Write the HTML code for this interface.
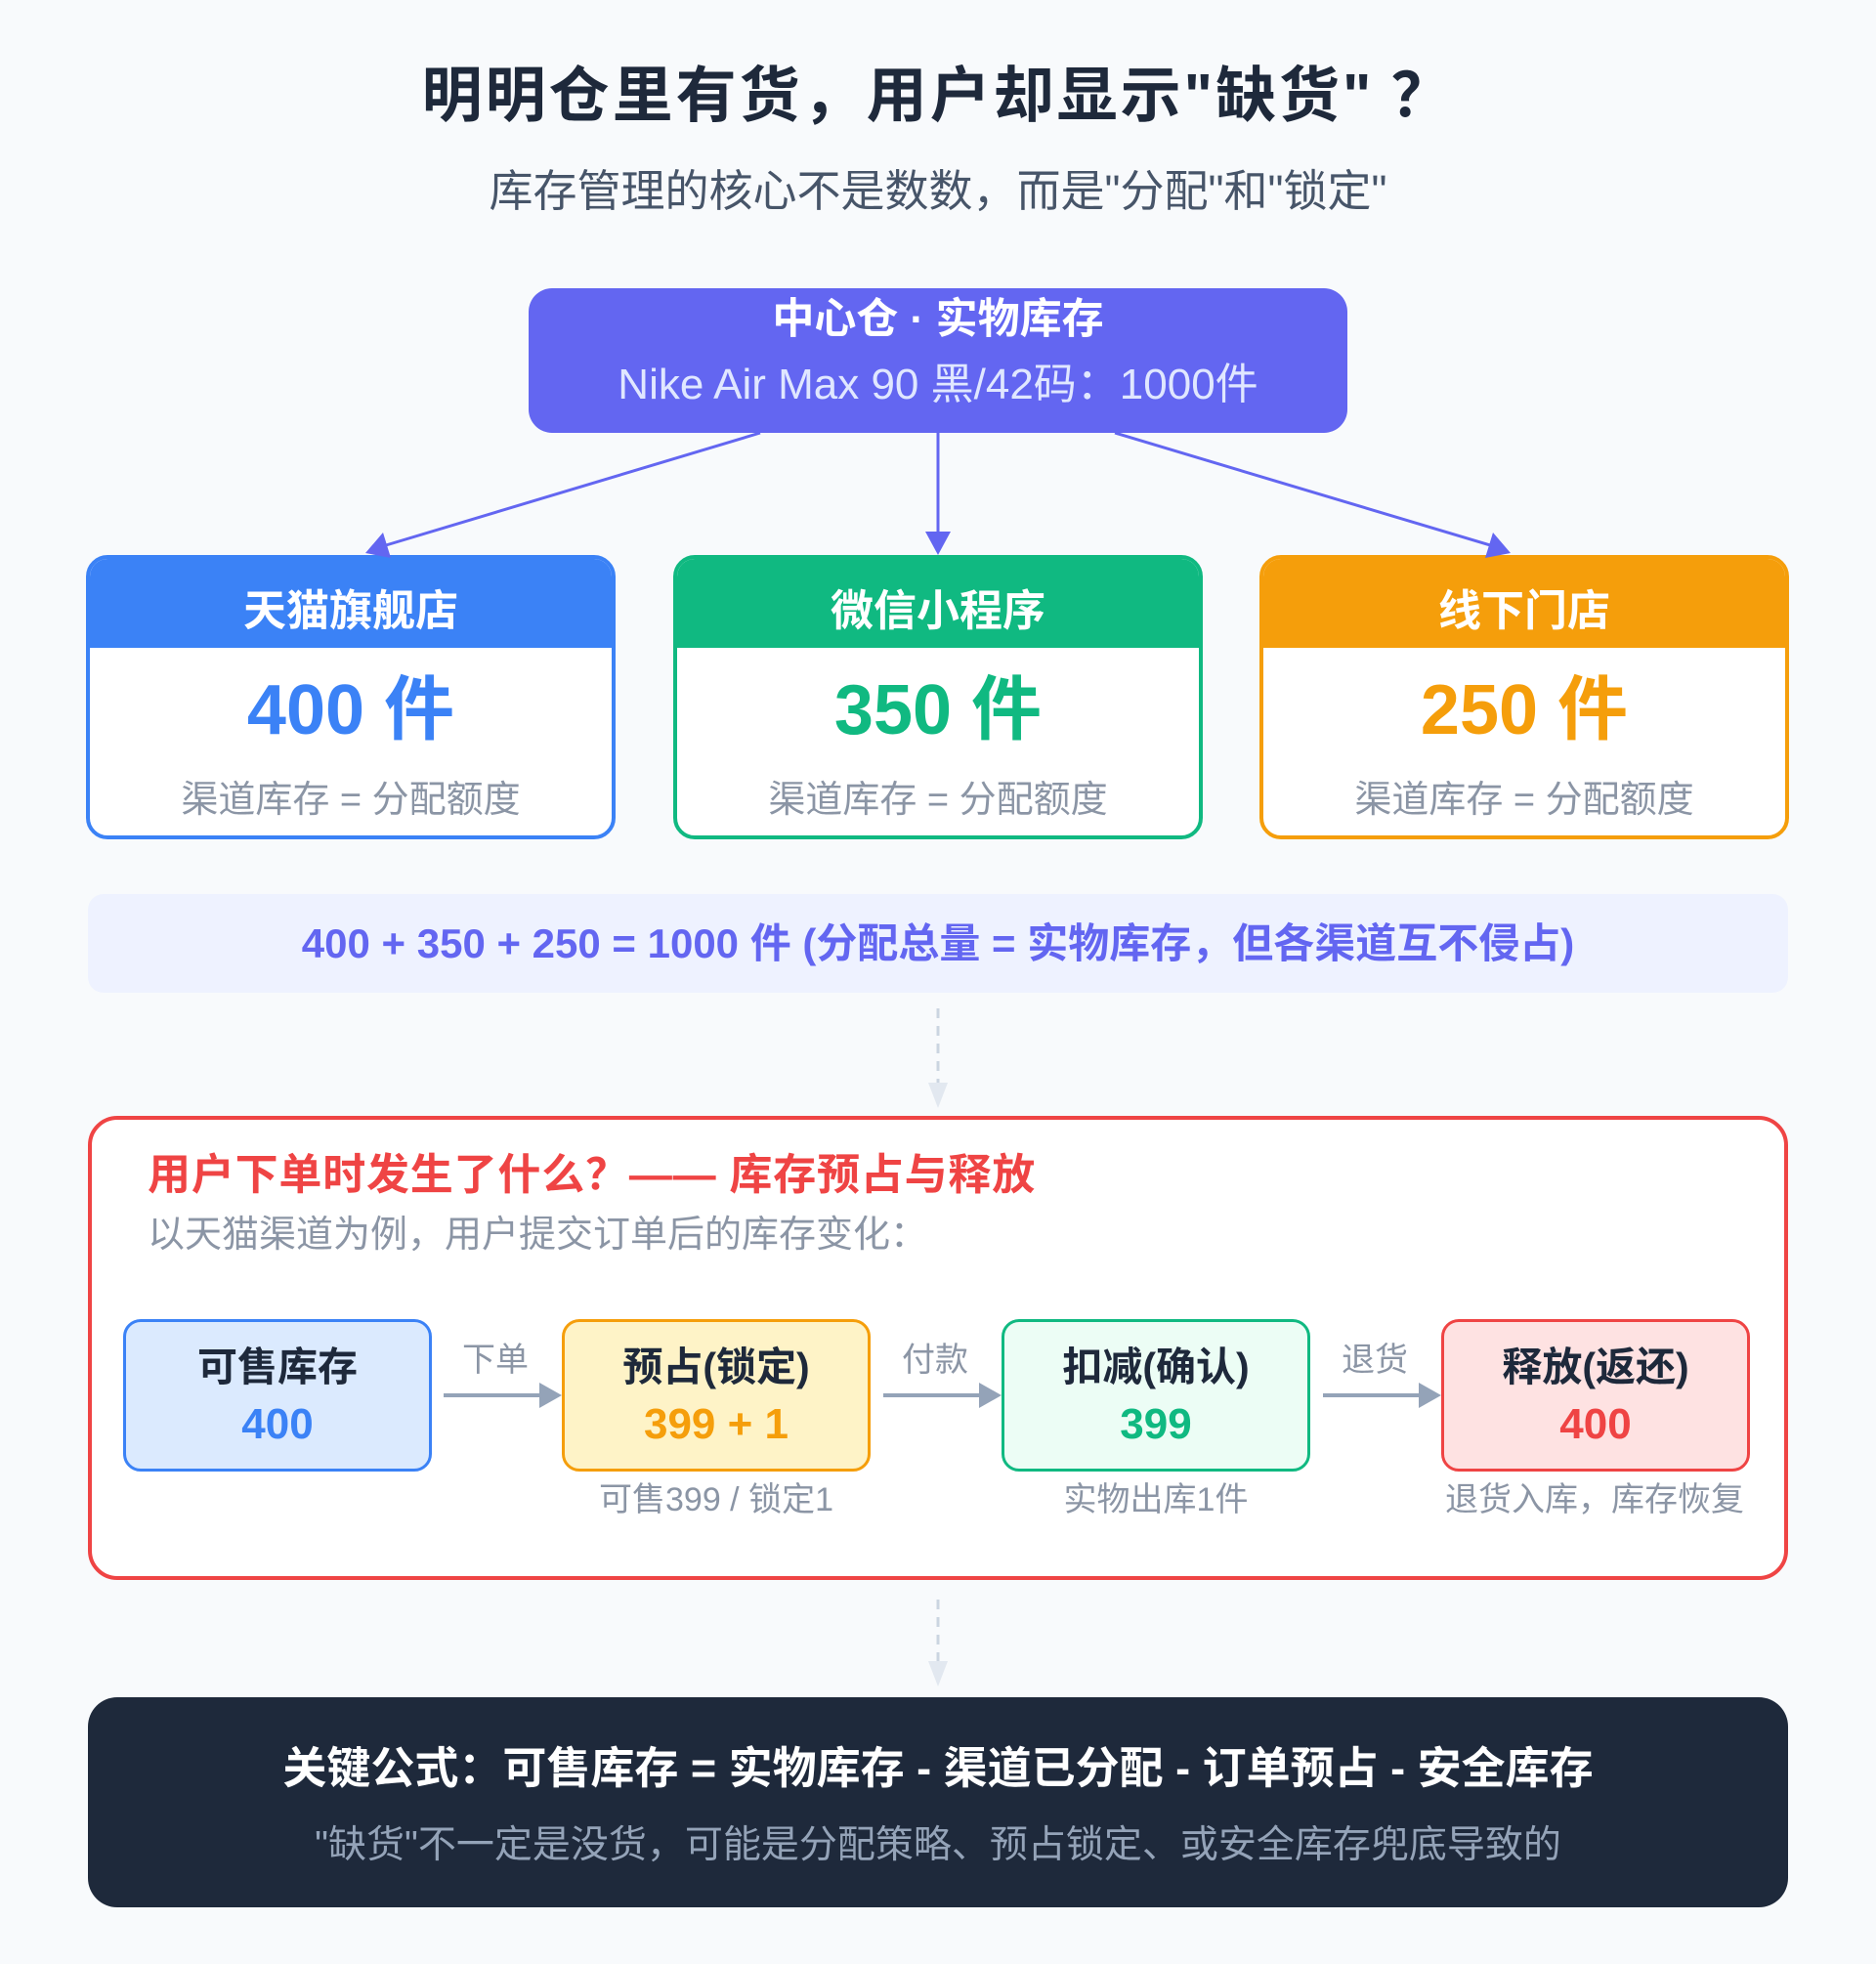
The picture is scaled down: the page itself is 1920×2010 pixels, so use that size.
<!DOCTYPE html>
<html><head><meta charset="utf-8"><style>
*{margin:0;padding:0;box-sizing:border-box}
body{width:1920px;height:2010px;background:#f8fafc;font-family:"Liberation Sans","Noto Sans CJK SC",sans-serif;position:relative;overflow:hidden}
.a{position:absolute}
.c{text-align:center;white-space:nowrap}
.fw{font-family:"Noto Sans CJK SC",sans-serif}
.ch{position:absolute;top:568px;width:542px;height:291px;border:4px solid;border-radius:22px;background:#fff;overflow:hidden}
.ch .h{height:91px;line-height:91px;padding-top:8px;color:#fff;font-weight:bold;font-size:44px;text-align:center}
.ch .n{text-align:center;font-weight:bold;font-size:72px;line-height:72px;margin-top:28px}
.ch .s{text-align:center;color:#8b95a5;font-size:38px;margin-top:24px}
.fb{position:absolute;top:1350px;width:316px;height:156px;border:3px solid;border-radius:18px;text-align:center}
.fb .t{font-weight:bold;font-size:41px;color:#1e293b;margin-top:22px;line-height:48px}
.fb .v{font-weight:bold;font-size:44px;margin-top:10px;line-height:50px}
.sub{position:absolute;top:1507px;width:360px;text-align:center;color:#8b95a5;font-size:34px}
.lb{position:absolute;top:1364px;width:120px;text-align:center;color:#8b95a5;font-size:34px}
</style></head><body>
<div class="a c" style="left:0;width:1920px;top:54px;font-size:62px;font-weight:bold;color:#1e293b;line-height:76px;letter-spacing:3px">明明仓里有货，用户却显示"缺货"<span class="fw"> ？</span></div>
<div class="a c" style="left:0;width:1920px;top:168px;font-size:45px;color:#475569;line-height:56px">库存管理的核心不是数数，而是"分配"和"锁定"</div>

<div class="a" style="left:541px;top:295px;width:838px;height:148px;background:#6366f1;border-radius:24px;text-align:center">
<div style="color:#fff;font-weight:bold;font-size:43px;margin-top:3px;line-height:58px">中心仓 · 实物库存</div>
<div style="color:#e0e7ff;font-size:44px;line-height:58px;margin-top:4px">Nike Air Max 90 黑/42码<span class="fw">：</span>1000件</div>
</div>

<div class="ch" style="left:88px;border-color:#3b82f6"><div class="h" style="background:#3b82f6">天猫旗舰店</div><div class="n" style="color:#3b82f6">400 件</div><div class="s">渠道库存 = 分配额度</div></div>
<div class="ch" style="left:689px;border-color:#10b981"><div class="h" style="background:#10b981">微信小程序</div><div class="n" style="color:#10b981">350 件</div><div class="s">渠道库存 = 分配额度</div></div>
<div class="ch" style="left:1289px;border-color:#f59e0b"><div class="h" style="background:#f59e0b">线下门店</div><div class="n" style="color:#f59e0b">250 件</div><div class="s">渠道库存 = 分配额度</div></div>

<div class="a c" style="left:90px;top:915px;width:1740px;height:101px;background:#eef2ff;border-radius:16px;line-height:101px;color:#6366f1;font-weight:bold;font-size:42px">400 + 350 + 250 = 1000 件 (分配总量 = 实物库存，但各渠道互不侵占)</div>

<div class="a" style="left:90px;top:1142px;width:1740px;height:475px;background:#fff;border:4px solid #ef4444;border-radius:30px"></div>
<div class="a" style="left:151px;top:1170px;font-size:44px;font-weight:bold;color:#ef4444;line-height:56px;white-space:nowrap;letter-spacing:0.8px">用户下单时发生了什么<span class="fw">？</span>—— 库存预占与释放</div>
<div class="a" style="left:151px;top:1236px;font-size:38px;color:#8b95a5;line-height:48px;white-space:nowrap">以天猫渠道为例，用户提交订单后的库存变化<span class="fw">：</span></div>

<svg class="a" style="left:0;top:0" width="1920" height="2010">
<g stroke="#6366f1" stroke-width="3" fill="#6366f1">
<line x1="778" y1="443" x2="395" y2="558"/><path d="M374,566 L392,545 L400,571z" stroke="none"/>
<line x1="960" y1="443" x2="960" y2="548"/><path d="M947,544 L973,544 L960,568z" stroke="none"/>
<line x1="1141" y1="443" x2="1525" y2="558"/><path d="M1546,566 L1520,571 L1528,545z" stroke="none"/>
</g>
<g stroke="#cbd5e1" stroke-width="3" stroke-dasharray="10,8">
<line x1="960" y1="1032" x2="960" y2="1110"/><line x1="960" y1="1637" x2="960" y2="1702"/></g>
<path d="M950,1108 L970,1108 L960,1134z" fill="#e2e8f0"/>
<path d="M950,1700 L970,1700 L960,1726z" fill="#e2e8f0"/>
<g stroke="#94a3b8" stroke-width="4" fill="#94a3b8">
<line x1="454" y1="1428" x2="555" y2="1428"/><path d="M552,1415 L575,1428 L552,1441z" stroke="none"/>
<line x1="904" y1="1428" x2="1005" y2="1428"/><path d="M1002,1415 L1025,1428 L1002,1441z" stroke="none"/>
<line x1="1354" y1="1428" x2="1455" y2="1428"/><path d="M1452,1415 L1475,1428 L1452,1441z" stroke="none"/>
</g>
</svg>

<div class="fb" style="left:126px;background:#dbeafe;border-color:#3b82f6"><div class="t">可售库存</div><div class="v" style="color:#3b82f6">400</div></div>
<div class="fb" style="left:575px;background:#fef3c7;border-color:#f59e0b"><div class="t">预占(锁定)</div><div class="v" style="color:#f59e0b">399 + 1</div></div>
<div class="fb" style="left:1025px;background:#ecfdf5;border-color:#10b981"><div class="t">扣减(确认)</div><div class="v" style="color:#10b981">399</div></div>
<div class="fb" style="left:1475px;background:#fee2e2;border-color:#ef4444"><div class="t">释放(返还)</div><div class="v" style="color:#ef4444">400</div></div>
<div class="lb" style="left:447px">下单</div><div class="lb" style="left:897px">付款</div><div class="lb" style="left:1347px">退货</div>
<div class="sub" style="left:553px">可售399 / 锁定1</div>
<div class="sub" style="left:1003px">实物出库1件</div>
<div class="sub" style="left:1452px">退货入库，库存恢复</div>

<div class="a" style="left:90px;top:1737px;width:1740px;height:215px;background:#1e293b;border-radius:30px;text-align:center">
<div style="color:#fff;font-weight:bold;font-size:45px;margin-top:40px;line-height:58px;white-space:nowrap">关键公式<span class="fw">：</span>可售库存 = 实物库存 - 渠道已分配 - 订单预占 - 安全库存</div>
<div style="color:#94a3b8;font-size:39px;margin-top:26px;line-height:48px;white-space:nowrap">"缺货"不一定是没货，可能是分配策略、预占锁定、或安全库存兜底导致的</div>
</div>
</body></html>
